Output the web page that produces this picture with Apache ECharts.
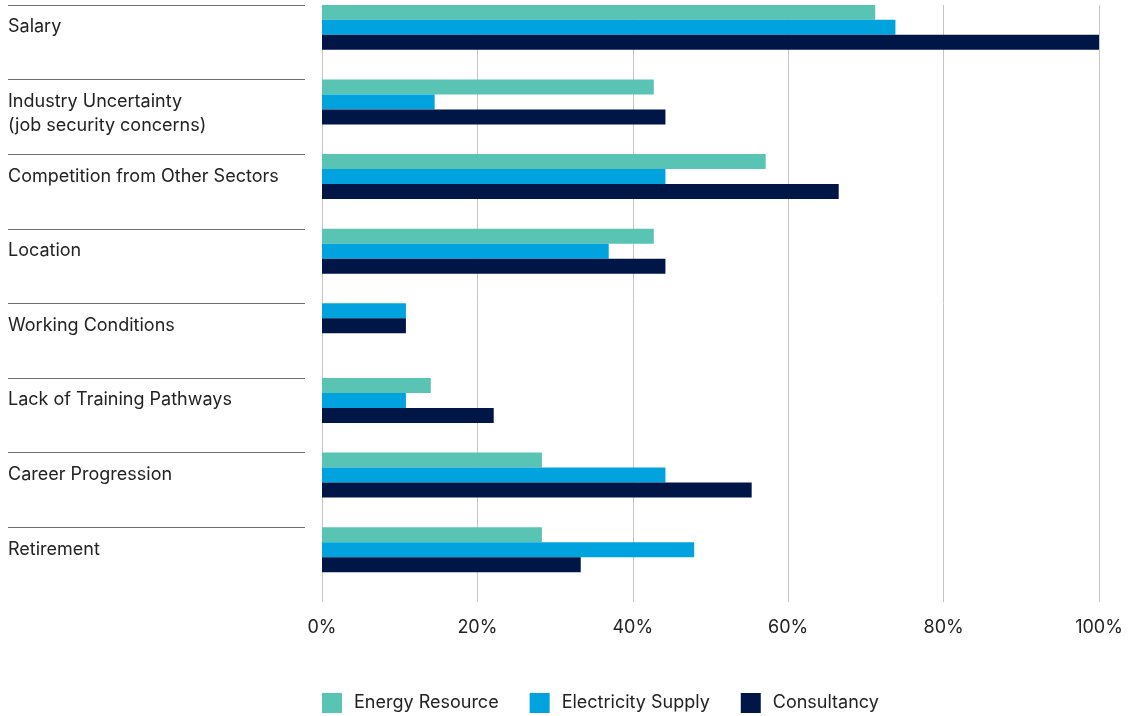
<!DOCTYPE html>
<html>
<head>
<meta charset="utf-8">
<script src="https://cdn.jsdelivr.net/npm/echarts@6/dist/echarts.min.js"></script>
<style>
  html, body { margin: 0; padding: 0; background: #ffffff; }
  #chart { width: 1132px; height: 716px; }
</style>
</head>
<body>
<div id="chart"></div>
<script>
// Reasons for workforce attrition, share of respondents by sector (%)
// null = sector gave no response for that reason
const categories = [
  'Salary',
  'Industry Uncertainty\n(job security concerns)',
  'Competition from Other Sectors',
  'Location',
  'Working Conditions',
  'Lack of Training Pathways',
  'Career Progression',
  'Retirement'
];
const energyResource     = [71.2, 42.7, 57.1, 42.7, null, 14.0, 28.3, 28.3];
const electricitySupply  = [73.8, 14.5, 44.2, 36.9, 10.8, 10.8, 44.2, 47.9];
const consultancy        = [100,  44.2, 66.5, 44.2, 10.8, 22.1, 55.3, 33.3];
const xTicks = [0, 20, 40, 60, 80, 100];

const FONT = 'Inter, "Noto Sans", sans-serif';
const TEXT = '#222222';
const FS = 18;

const sectors = [
  { name: 'Energy Resource',    data: energyResource,    color: '#59C3B4' },
  { name: 'Electricity Supply', data: electricitySupply, color: '#00A3DE' },
  { name: 'Consultancy',        data: consultancy,       color: '#001647' }
];

// Each row stacks its answered sectors from the top of the row downwards,
// so bars are packed into consecutive slots (5 slots of 15px fill a row).
const SLOTS = 5;
const slotData = Array.from({ length: SLOTS }, () => categories.map(() => null));
categories.forEach((_, i) => {
  let k = 0;
  sectors.forEach(s => {
    const v = s.data[i];
    if (v !== null && v !== undefined) {
      slotData[k][i] = { value: v, itemStyle: { color: s.color } };
      k++;
    }
  });
});

const series = slotData.map((d, k) => ({
  type: 'bar',
  name: 'slot ' + (k + 1),
  xAxisIndex: 0,
  yAxisIndex: 0,
  data: d,
  barWidth: 15,
  barGap: '0%',
  emphasis: { disabled: true },
  animation: false
}));

// Legend entries, attached to the label grid so they take no bar slots
sectors.forEach(s => series.push({
  type: 'bar',
  name: s.name,
  xAxisIndex: 1,
  yAxisIndex: 1,
  data: [],
  itemStyle: { color: s.color },
  animation: false
}));

const chart = echarts.init(document.getElementById('chart'), null, { renderer: 'canvas' });

chart.setOption({
  backgroundColor: '#ffffff',
  textStyle: { fontFamily: FONT },
  animation: false,
  tooltip: { show: false },
  legend: {
    data: sectors.map(s => s.name),
    left: 322,
    top: 693,
    padding: 0,
    itemWidth: 20,
    itemHeight: 20,
    itemGap: 31,
    icon: 'rect',
    textStyle: { fontFamily: FONT, fontSize: FS, color: TEXT, padding: [0, 0, 0, 7] },
    selectedMode: false
  },
  grid: [
    { left: 322, top: 5, width: 777, height: 597, containLabel: false },
    { left: 8, top: 5, width: 297, height: 7 * 74.6, containLabel: false }
  ],
  xAxis: [
    {
      type: 'value',
      gridIndex: 0,
      min: xTicks[0],
      max: xTicks[xTicks.length - 1],
      interval: 20,
      axisLine: { show: false },
      axisTick: { show: false },
      splitLine: { show: true, lineStyle: { color: '#c4c4c4', width: 1 } },
      axisLabel: {
        formatter: v => v + '%',
        fontFamily: FONT, fontSize: FS, color: TEXT, margin: 17
      }
    },
    { type: 'value', gridIndex: 1, min: 0, max: 1, show: false }
  ],
  yAxis: [
    {
      type: 'category',
      gridIndex: 0,
      data: categories,
      inverse: true,
      axisLine: { show: false },
      axisTick: { show: false },
      axisLabel: { show: false },
      splitLine: { show: false }
    },
    {
      type: 'category',
      gridIndex: 1,
      data: categories,
      inverse: true,
      boundaryGap: false,
      axisLine: { show: false },
      axisTick: { show: false },
      splitLine: { show: true, interval: 0, lineStyle: { color: '#6e6e6e', width: 1 } },
      axisLabel: {
        show: true,
        inside: true,
        interval: 0,
        margin: 0,
        align: 'left',
        verticalAlign: 'top',
        lineHeight: 24,
        padding: [10, 0, 0, 0],
        fontFamily: FONT,
        fontSize: FS,
        color: TEXT
      }
    }
  ],
  series: series
});
</script>
</body>
</html>
